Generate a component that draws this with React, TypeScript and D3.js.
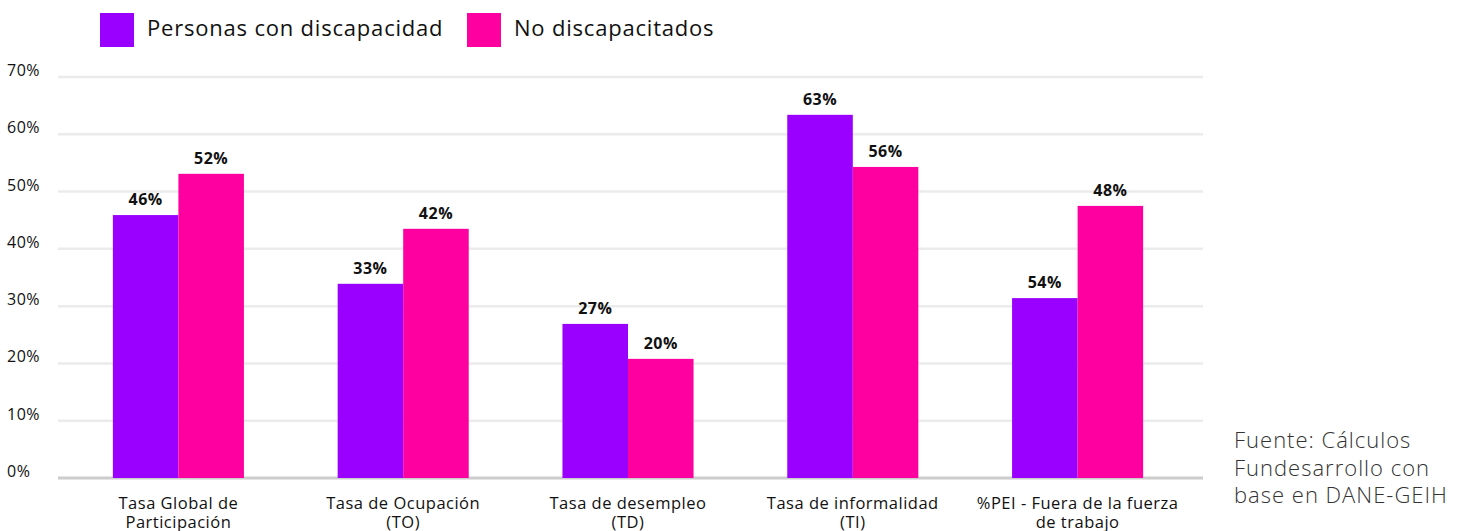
import React from "react";
import * as d3 from "d3";

const categories: string[][] = [
  ["Tasa Global de", "Participación"],
  ["Tasa de Ocupación", "(TO)"],
  ["Tasa de desempleo", "(TD)"],
  ["Tasa de informalidad", "(TI)"],
  ["%PEI - Fuera de la fuerza", "de trabajo"],
];
const seriesNames = ["Personas con discapacidad", "No discapacitados"];
const disabledValues = [45.9, 33.9, 26.9, 63.4, 31.4];
const nonDisabledValues = [53.1, 43.5, 20.8, 54.3, 47.5];
const disabledLabels = ["46%", "33%", "27%", "63%", "54%"];
const nonDisabledLabels = ["52%", "42%", "20%", "56%", "48%"];
const yTicks = [0, 10, 20, 30, 40, 50, 60, 70];
const sourceLines = ["Fuente: Cálculos", "Fundesarrollo con", "base en DANE-GEIH"];

const COLORS = ["#9900ff", "#ff00a0"];
const FONT = "'Open Sans', 'Noto Sans', sans-serif";

export default function App() {
  const W = 1466;
  const H = 531;
  const keys = categories.map((_, i) => String(i));
  const x = d3.scaleBand<string>().domain(keys).range([66, 1190]).paddingInner(0.417).paddingOuter(0.2085);
  const xs = d3.scaleBand<string>().domain(["0", "1"]).range([0, x.bandwidth()]);
  const y = d3.scaleLinear().domain([0, 70]).range([478, 77]);
  const series = [
    { values: disabledValues, labels: disabledLabels },
    { values: nonDisabledValues, labels: nonDisabledLabels },
  ];

  return (
    <svg width={W} height={H} style={{ position: "absolute", left: 0, top: 0, display: "block", background: "#fff" }}>
      {seriesNames.map((n, i) => {
        const lx = [100, 467][i];
        return (
          <g key={n}>
            <rect x={lx} y={13} width={34} height={34} fill={COLORS[i]} />
            <text x={lx + 47} y={36} fontFamily={FONT} fontSize={22} letterSpacing={0.8} fill="#111">{n}</text>
          </g>
        );
      })}
      {yTicks.map((t) => (
        <g key={t}>
          <line x1={58} x2={1203} y1={y(t)} y2={y(t)} stroke={t === 0 ? "#cccccc" : "#ebebeb"} strokeWidth={t === 0 ? 3 : 2.5} />
          <text x={7} y={y(t) - 1} fontFamily={FONT} fontSize={16} fontWeight={500} letterSpacing={0.5} fill="#111">{t}%</text>
        </g>
      ))}
      {categories.map((c, ci) =>
        series.map((s, si) => {
          const bx = (x(String(ci)) as number) + (xs(String(si)) as number);
          const v = s.values[ci];
          return (
            <g key={ci + "-" + si}>
              <rect x={bx} y={y(v)} width={xs.bandwidth()} height={y(0) - y(v)} fill={COLORS[si]} />
              <text x={bx + xs.bandwidth() / 2} y={y(v) - 10} textAnchor="middle" fontFamily={FONT} fontSize={16} fontWeight={700} letterSpacing={0.5} fill="#111">{s.labels[ci]}</text>
            </g>
          );
        })
      )}
      {categories.map((lines, ci) => (
        <text key={ci} textAnchor="middle" fontFamily={FONT} fontSize={16.5} letterSpacing={0.5} fill="#111">
          {lines.map((l, li) => (
            <tspan key={li} x={(x(String(ci)) as number) + x.bandwidth() / 2} y={509 + li * 19}>{l}</tspan>
          ))}
        </text>
      ))}
      <text fontFamily={FONT} fontSize={22} fontWeight={300} letterSpacing={1} fill="#333">
        {sourceLines.map((l, i) => (
          <tspan key={i} x={1234} y={448 + i * 27.5}>{l}</tspan>
        ))}
      </text>
    </svg>
  );
}
